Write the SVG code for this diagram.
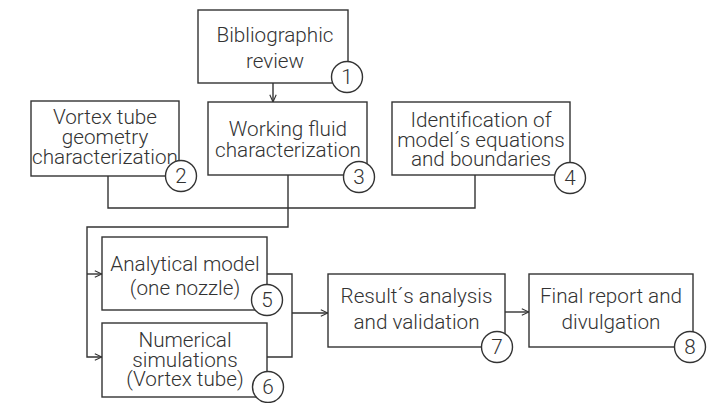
<svg xmlns="http://www.w3.org/2000/svg" width="713" height="403" viewBox="0 0 713 403">
<defs>
<style>
.box{fill:#fff;stroke:#333;stroke-width:1.4}
.num{fill:#fff;stroke:#333;stroke-width:1.4}
.t{font-family:Roboto,"Liberation Sans",sans-serif;font-weight:300;font-size:20.7px;fill:#333;text-anchor:middle}
.c{fill:none;stroke:#333;stroke-width:1.4}
</style>
<marker id="ah" viewBox="0 0 10 10" refX="10" refY="5" markerWidth="8" markerHeight="8" orient="auto" markerUnits="userSpaceOnUse">
<path d="M1,1 L10,5 L1,9" fill="none" stroke="#333" stroke-width="1.4"/>
</marker>
</defs>
<rect width="713" height="403" fill="#fff"/>
<g id="connectors">
<path class="c" d="M273,83 V102" marker-end="url(#ah)"/>
<path class="c" d="M108,176 V208 H475 V175"/>
<path class="c" d="M288,175 V227 H87 V357 H102" marker-end="url(#ah)"/>
<path class="c" d="M87,274 H102" marker-end="url(#ah)"/>
<path class="c" d="M267,274 H292 V357 H267"/>
<path class="c" d="M292,313 H328" marker-end="url(#ah)"/>
<path class="c" d="M505,312 H529" marker-end="url(#ah)"/>
</g>
<g id="n1">
<rect class="box" x="198" y="10" width="150" height="73"/>
<text class="t" x="275" y="42">Bibliographic</text>
<text class="t" x="275" y="68">review</text>
<circle class="num" cx="347" cy="77" r="15.5"/>
<text class="t" x="347" y="84">1</text>
</g>
<g id="n2">
<rect class="box" x="31" y="101" width="148" height="75"/>
<text class="t" x="105" y="124">Vortex tube</text>
<text class="t" x="105" y="144">geometry</text>
<text class="t" x="105" y="164">characterization</text>
<circle class="num" cx="181" cy="176" r="15.5"/>
<text class="t" x="181" y="183">2</text>
</g>
<g id="n3">
<rect class="box" x="208" y="102" width="159" height="73"/>
<text class="t" x="288" y="136">Working fluid</text>
<text class="t" x="288" y="157">characterization</text>
<circle class="num" cx="359" cy="177" r="15.5"/>
<text class="t" x="359" y="184">3</text>
</g>
<g id="n4">
<rect class="box" x="392" y="102" width="178" height="73"/>
<text class="t" x="481" y="127">Identification of</text>
<text class="t" x="481" y="147">model´s equations</text>
<text class="t" x="481" y="166">and boundaries</text>
<circle class="num" cx="570" cy="178" r="15.5"/>
<text class="t" x="570" y="185">4</text>
</g>
<g id="n5">
<rect class="box" x="102" y="237" width="165" height="73"/>
<text class="t" x="185" y="271">Analytical model</text>
<text class="t" x="185" y="295">(one nozzle)</text>
<circle class="num" cx="267" cy="300" r="15.5"/>
<text class="t" x="267" y="307">5</text>
</g>
<g id="n6">
<rect class="box" x="102" y="323" width="165" height="74"/>
<text class="t" x="185" y="347">Numerical</text>
<text class="t" x="185" y="367">simulations</text>
<text class="t" x="185" y="386">(Vortex tube)</text>
<circle class="num" cx="268" cy="387" r="15.5"/>
<text class="t" x="268" y="394">6</text>
</g>
<g id="n7">
<rect class="box" x="328" y="274" width="177" height="73"/>
<text class="t" x="416.5" y="303">Result´s analysis</text>
<text class="t" x="416.5" y="329">and validation</text>
<circle class="num" cx="497" cy="347" r="15.5"/>
<text class="t" x="497" y="354">7</text>
</g>
<g id="n8">
<rect class="box" x="529" y="274" width="164" height="73"/>
<text class="t" x="611" y="303">Final report and</text>
<text class="t" x="611" y="329">divulgation</text>
<circle class="num" cx="690" cy="347" r="15.5"/>
<text class="t" x="690" y="354">8</text>
</g>
</svg>
